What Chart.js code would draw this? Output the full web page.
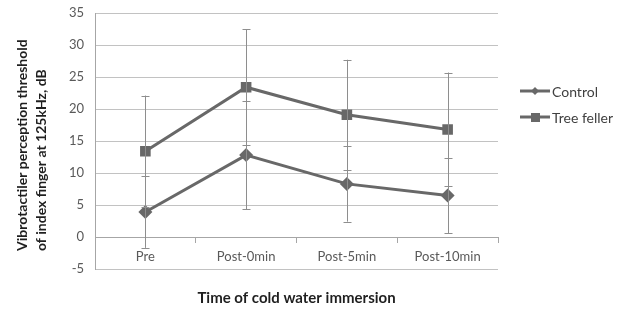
<!DOCTYPE html>
<html>
<head>
<meta charset="utf-8">
<script src="https://cdn.jsdelivr.net/npm/chart.js@4"></script>
<style>
html,body{margin:0;padding:0;background:#fff;}
#wrap{width:623px;height:313px;position:relative;}
</style>
</head>
<body>
<div id="wrap"><canvas id="c" width="623" height="313"></canvas></div>
<script>
const categories = ["Pre", "Post-0min", "Post-5min", "Post-10min"];
const controlValues = [3.9, 12.8, 8.3, 6.5];
const controlErrors = [5.6, 8.5, 5.9, 5.9];
const treeFellerValues = [13.4, 23.4, 19.1, 16.8];
const treeFellerErrors = [8.7, 9.1, 8.6, 8.9];
const yTicks = [-5, 0, 5, 10, 15, 20, 25, 30, 35];
const yTitleLines = ["Vibrotactiler perception threshold", "of index finger at 125kHz, dB"];
const xTitle = "Time of cold water immersion";

const FONT = "Lato, 'Open Sans', sans-serif";
const LINE = "#686868";

const errorBarPlugin = {
  id: "errorBars",
  afterDatasetsDraw(chart) {
    const ctx = chart.ctx;
    const y = chart.scales.y;
    ctx.save();
    ctx.strokeStyle = "#8e8e8e";
    ctx.lineWidth = 1;
    chart.data.datasets.forEach((ds, i) => {
      const meta = chart.getDatasetMeta(i);
      meta.data.forEach((pt, j) => {
        const v = ds.data[j], e = ds.errors[j];
        const x = Math.round(pt.x) + 0.5;
        const yt = y.getPixelForValue(v + e);
        const yb = y.getPixelForValue(v - e);
        ctx.beginPath();
        ctx.moveTo(x, yt); ctx.lineTo(x, yb);
        ctx.moveTo(x - 4, Math.round(yt) + 0.5); ctx.lineTo(x + 4, Math.round(yt) + 0.5);
        ctx.moveTo(x - 4, Math.round(yb) + 0.5); ctx.lineTo(x + 4, Math.round(yb) + 0.5);
        ctx.stroke();
      });
    });
    ctx.restore();
  }
};

const titlesLegendPlugin = {
  id: "titlesLegend",
  afterDraw(chart) {
    const ctx = chart.ctx;
    const area = chart.chartArea;
    ctx.save();
    ctx.fillStyle = "#1f1f1f";
    ctx.font = "bold 14px " + FONT;
    ctx.textBaseline = "middle";
    ctx.textAlign = "left";
    const xs = [22, 41];
    yTitleLines.forEach((t, k) => {
      ctx.save();
      ctx.translate(xs[k], 251);
      ctx.rotate(-Math.PI / 2);
      ctx.fillText(t, 0, 0);
      ctx.restore();
    });
    ctx.font = "bold 15px " + FONT;
    ctx.textAlign = "center";
    ctx.fillText(xTitle, (area.left + area.right) / 2, 298);
    ctx.font = "14px " + FONT;
    ctx.textAlign = "left";
    const rows = [91, 117];
    chart.data.datasets.forEach((ds, i) => {
      const yy = rows[i];
      ctx.strokeStyle = LINE;
      ctx.lineWidth = 3;
      ctx.beginPath();
      ctx.moveTo(520, yy); ctx.lineTo(550, yy);
      ctx.stroke();
      ctx.fillStyle = LINE;
      if (ds.pointStyle === "rect") {
        ctx.fillRect(531, yy - 4, 9, 9);
      } else {
        ctx.beginPath();
        ctx.moveTo(535, yy - 4); ctx.lineTo(539, yy); ctx.lineTo(535, yy + 4); ctx.lineTo(531, yy);
        ctx.closePath(); ctx.fill();
      }
      ctx.fillStyle = "#404040";
      ctx.fillText(ds.label, 552, yy + 1);
    });
    ctx.restore();
  }
};

new Chart(document.getElementById("c"), {
  type: "line",
  data: {
    labels: categories,
    datasets: [
      {
        label: "Control",
        data: controlValues,
        errors: controlErrors,
        borderColor: LINE,
        backgroundColor: LINE,
        borderWidth: 3,
        pointStyle: "rectRot",
        pointRadius: 7,
        pointBorderWidth: 0,
        tension: 0
      },
      {
        label: "Tree feller",
        data: treeFellerValues,
        errors: treeFellerErrors,
        borderColor: LINE,
        backgroundColor: LINE,
        borderWidth: 3,
        pointStyle: "rect",
        pointRadius: 7.5,
        pointBorderWidth: 0,
        tension: 0
      }
    ]
  },
  options: {
    responsive: false,
    animation: false,
    devicePixelRatio: 1,
    layout: { padding: { top: 13, right: 125, bottom: 44, left: 0 } },
    plugins: { legend: { display: false }, tooltip: { enabled: false } },
    scales: {
      x: {
        type: "category",
        position: { y: 0 },
        offset: true,
        grid: { offset: true, drawOnChartArea: false, drawTicks: true, tickLength: 5, color: "#a6a6a6" },
        border: { display: true, color: "#a6a6a6", width: 1 },
        ticks: { color: "#595959", font: { family: FONT, size: 13 }, padding: 7 }
      },
      y: {
        min: -5, max: 35,
        afterBuildTicks(s) { s.ticks = yTicks.map(v => ({ value: v })); },
        afterFit(s) { s.width = 95; s.paddingTop = 0; s.paddingBottom = 0; },
        grid: { color: "#c2c2c2", drawTicks: false },
        border: { display: true, color: "#a6a6a6" },
        ticks: { color: "#595959", font: { family: FONT, size: 13 }, padding: 11 }
      }
    }
  },
  plugins: [errorBarPlugin, titlesLegendPlugin]
});
</script>
</body>
</html>
